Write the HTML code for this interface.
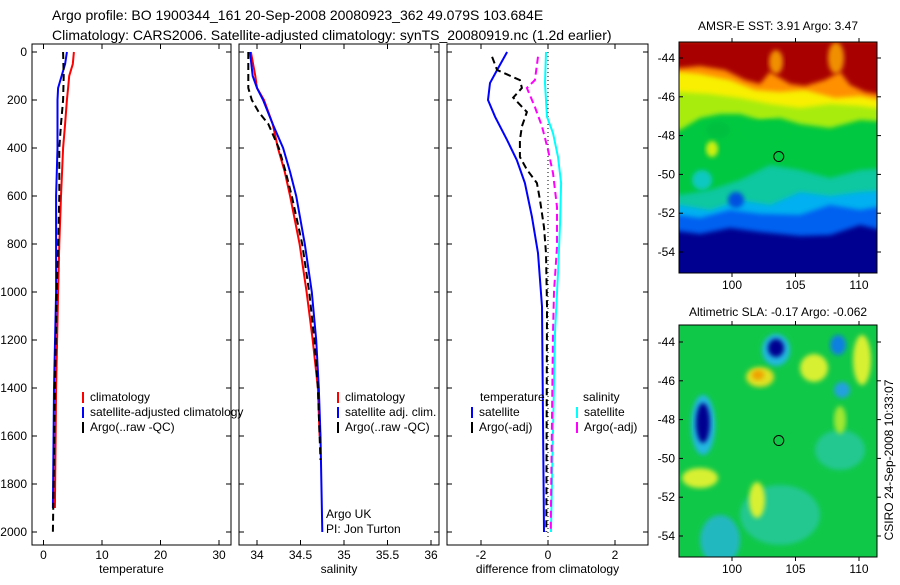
<!DOCTYPE html>
<html><head><meta charset="utf-8"><style>
html,body{margin:0;padding:0;background:#fff}
svg text{font-family:"Liberation Sans",sans-serif;fill:#000}
</style></head><body>
<svg id="fig" width="900" height="580" viewBox="0 0 900 580" xmlns="http://www.w3.org/2000/svg">
<defs>
<clipPath id="c1"><rect x="679" y="42" width="198" height="231"/></clipPath>
<clipPath id="c2"><rect x="679" y="325" width="198" height="232"/></clipPath>
<filter id="bl" x="-20%" y="-20%" width="140%" height="140%"><feGaussianBlur stdDeviation="2.5"/></filter>
</defs>
<text x="52" y="20" font-size="14">Argo profile: BO 1900344_161 20-Sep-2008 20080923_362 49.079S 103.684E</text>
<text x="52" y="40" font-size="14">Climatology: CARS2006. Satellite-adjusted climatology: synTS_20080919.nc (1.2d earlier)</text>

<g id="p1"></g>
<g id="p2"></g>
<g id="p3"></g>

<!-- SST map -->
<g>
<text x="778" y="30" font-size="12" text-anchor="middle">AMSR-E SST: 3.91 Argo: 3.47</text>
<g clip-path="url(#c1)">
<rect x="679" y="42" width="198" height="231" fill="#000090"/>
<polygon filter="url(#bl)" fill="#0060f0" points="670,40 890,40 890,232 860,225 830,235 800,236 760,232 730,228 700,234 670,230"/>
<polygon filter="url(#bl)" fill="#00b0f0" points="670,40 890,40 890,205 860,210 830,205 800,215 760,214 730,210 700,218 670,214"/>
<polygon filter="url(#bl)" fill="#10c8a0" points="670,40 890,40 890,190 860,192 830,196 800,192 770,205 740,200 710,210 680,205 670,205"/>
<polygon filter="url(#bl)" fill="#00c840" points="670,40 890,40 890,168 860,170 830,178 800,170 770,165 740,180 710,190 680,195 670,190"/>
<polygon filter="url(#bl)" fill="#a8ec10" points="670,40 890,40 890,122 860,120 830,128 800,124 780,118 760,120 740,114 720,114 700,118 680,130 670,130"/>
<polygon filter="url(#bl)" fill="#f8f000" points="670,40 890,40 890,110 860,106 830,104 800,108 770,104 740,98 710,94 680,92 670,92"/>
<polygon filter="url(#bl)" fill="#ff9000" points="670,40 890,40 890,102 860,96 835,98 805,90 780,92 755,90 730,80 700,74 680,72 670,72"/>
<polygon filter="url(#bl)" fill="#a80000" points="670,40 890,40 890,96 865,92 850,85 840,72 825,80 805,86 790,84 770,72 760,84 745,80 725,70 700,66 680,68 670,68"/>
<ellipse filter="url(#bl)" cx="776" cy="62" rx="7" ry="12" fill="#f09000"/>
<ellipse filter="url(#bl)" cx="836" cy="58" rx="8" ry="16" fill="#f09000"/>
<ellipse filter="url(#bl)" cx="718" cy="130" rx="12" ry="8" fill="#00c040"/>
<ellipse filter="url(#bl)" cx="765" cy="130" rx="22" ry="9" fill="#00c840"/>
<ellipse filter="url(#bl)" cx="712" cy="149" rx="6" ry="8" fill="#d0f010"/>
<ellipse filter="url(#bl)" cx="702" cy="180" rx="10" ry="10" fill="#10c8c0"/>
<ellipse filter="url(#bl)" cx="736" cy="200" rx="8" ry="8" fill="#0050e0"/>
</g>
<rect x="679" y="42" width="198" height="231" fill="none" stroke="#000" stroke-width="1"/>
</g>

<!-- SLA map -->
<g>
<text x="778" y="316" font-size="12" text-anchor="middle">Altimetric SLA: -0.17 Argo: -0.062</text>
<g clip-path="url(#c2)">
<rect x="679" y="325" width="198" height="232" fill="#10c848"/>
<ellipse filter="url(#bl)" cx="780" cy="515" rx="40" ry="30" fill="#20c890"/>
<ellipse filter="url(#bl)" cx="840" cy="450" rx="25" ry="20" fill="#20c890"/>
<ellipse filter="url(#bl)" cx="720" cy="540" rx="20" ry="25" fill="#20b8c0"/>
<ellipse filter="url(#bl)" cx="776" cy="350" rx="14" ry="16" fill="#20b8e0"/>
<ellipse filter="url(#bl)" cx="776" cy="348" rx="8" ry="9" fill="#000090"/>
<ellipse filter="url(#bl)" cx="838" cy="345" rx="8" ry="10" fill="#1080e0"/>
<ellipse filter="url(#bl)" cx="842" cy="390" rx="8" ry="8" fill="#20a0e0"/>
<ellipse filter="url(#bl)" cx="703" cy="425" rx="12" ry="30" fill="#20b8e0"/>
<ellipse filter="url(#bl)" cx="703" cy="423" rx="7" ry="20" fill="#000090"/>
<ellipse filter="url(#bl)" cx="760" cy="377" rx="14" ry="10" fill="#e0e020"/>
<ellipse filter="url(#bl)" cx="758" cy="375" rx="6" ry="5" fill="#f0a000"/>
<ellipse filter="url(#bl)" cx="814" cy="368" rx="14" ry="14" fill="#d8f030"/>
<ellipse filter="url(#bl)" cx="862" cy="360" rx="9" ry="25" fill="#d8f030"/>
<ellipse filter="url(#bl)" cx="700" cy="478" rx="18" ry="10" fill="#d8f030"/>
<ellipse filter="url(#bl)" cx="757" cy="500" rx="8" ry="18" fill="#d8f030"/>
<ellipse filter="url(#bl)" cx="840" cy="420" rx="6" ry="14" fill="#a0e830"/>
</g>
<rect x="679" y="325" width="198" height="232" fill="none" stroke="#000" stroke-width="1"/>
</g>
<text transform="translate(893,460) rotate(-90)" font-size="12" text-anchor="middle">CSIRO 24-Sep-2008 10:33:07</text>
</svg>
<script>
// ---- profile data ----
const tDepth = [0,50,100,150,200,300,400,600,800,1000,1400,1900];
const tClim  = [5.2,5.0,4.4,4.2,4.0,3.7,3.35,3.0,2.7,2.5,2.15,1.95];
const tSat   = [4.0,3.7,3.1,2.5,2.4,2.4,2.4,2.15,2.15,2.15,1.8,1.6];
const tArgoDepth=[0,100,200,300,400,600,800,1000,1400,2000];
const tArgo  = [3.35,3.45,3.35,3.0,2.7,2.7,2.5,2.25,1.95,1.6];
const sDepth = [0,100,150,200,300,400,500,600,800,1000,1200,1400,1600,2000];
const sClim  = [33.93,33.98,34.0,34.08,34.18,34.24,34.32,34.38,34.49,34.57,34.64,34.70,34.72,null];
const sSat   = [33.92,33.95,34.0,34.07,34.18,34.30,34.38,34.45,34.55,34.63,34.68,34.71,34.73,34.75];
const sArgoDepth=[0,150,200,250,300,400,500,600,800,1000,1200,1400,1600,1700];
const sArgo  = [33.9,33.9,33.94,34.02,34.13,34.25,34.33,34.40,34.52,34.60,34.66,34.70,34.72,34.73];
const dTDepth = [0,75,129,200,270,367,450,546,686,838,1060,2000];
const dTSat   = [-1.22,-1.52,-1.73,-1.79,-1.58,-1.22,-0.93,-0.69,-0.48,-0.30,-0.18,-0.12];
const dTArgoDepth=[20,75,117,150,190,250,310,367,437,490,546,617,730,838,1060,2000];
const dTArgo  = [-1.67,-1.52,-0.84,-0.78,-1.04,-0.63,-0.78,-0.84,-0.84,-0.63,-0.33,-0.24,-0.12,-0.06,-0.03,-0.05];
const dSDepth = [0,130,270,338,437,546,708,920,1170,2000];
const dSSat   = [-0.06,-0.09,-0.03,0.15,0.30,0.39,0.36,0.30,0.21,0.09];
const dSArgoDepth=[20,117,150,229,310,408,504,646,812,1000,1170,2000];
const dSArgo  = [-0.30,-0.39,-0.63,-0.39,-0.18,0.0,0.15,0.27,0.27,0.18,0.15,0.08];
const depthTicks=[0,200,400,600,800,1000,1200,1400,1600,1800,2000];
const tTicks=[0,10,20,30], sTicks=[34,34.5,35,35.5,36], dTicks=[-2,0,2];
const latTicks=[-44,-46,-48,-50,-52,-54], lonTicks=[100,105,110];
const argoLon=103.684, argoLat=-49.079;

const NS='http://www.w3.org/2000/svg';
const svg=document.getElementById('fig');
function mk(parent,tag,attrs){const e=document.createElementNS(NS,tag);for(const k in attrs)e.setAttribute(k,attrs[k]);parent.appendChild(e);return e;}
const Y0=52, KY=0.24, TOP=44, BOT=545;
const yD=d=>Y0+d*KY;

function panel(g,x0,x1,xf,ticks,label,showY){
  mk(g,'rect',{x:x0,y:TOP,width:x1-x0,height:BOT-TOP,fill:'none',stroke:'#000','stroke-width':1});
  depthTicks.forEach(d=>{
    mk(g,'line',{x1:x0,x2:x0+5,y1:yD(d),y2:yD(d),stroke:'#000'});
    mk(g,'line',{x1:x1-5,x2:x1,y1:yD(d),y2:yD(d),stroke:'#000'});
    if(showY){const t=mk(g,'text',{x:x0-5,y:yD(d)+4,'font-size':12,'text-anchor':'end'});t.textContent=d;
      
      }
  });
  ticks.forEach(v=>{
    mk(g,'line',{x1:xf(v),x2:xf(v),y1:TOP,y2:TOP+5,stroke:'#000'});
    mk(g,'line',{x1:xf(v),x2:xf(v),y1:BOT-5,y2:BOT,stroke:'#000'});
    const t=mk(g,'text',{x:xf(v),y:BOT+14,'font-size':12,'text-anchor':'middle'});t.textContent=v;
    
    
  });
  const t=mk(g,'text',{x:(x0+x1)/2,y:573,'font-size':12,'text-anchor':'middle'});t.textContent=label;
  
  
}
function line(g,depths,vals,xf,color,dash,name,w){
  let d='';depths.forEach((z,i)=>{if(vals[i]==null)return;d+=(d?'L':'M')+xf(vals[i]).toFixed(1)+','+yD(z).toFixed(1);});
  const p=mk(g,'path',{d:d,fill:'none',stroke:color,'stroke-width':w||2});
  if(dash)p.setAttribute('stroke-dasharray',dash);
  
  
}
function legend(g,x,y,color,text){
  mk(g,'line',{x1:x,x2:x,y1:y-9,y2:y+2,stroke:color,'stroke-width':2});
  const t=mk(g,'text',{x:x+7,y:y,'font-size':12});t.textContent=text;
  
  
}
const xT=v=>43.5+5.85*v, xS=v=>257+87*(v-34), xDf=v=>548+33.5*v;
const p1=document.getElementById('p1'),p2=document.getElementById('p2'),p3=document.getElementById('p3');
panel(p1,32,231,xT,tTicks,'temperature',true);
line(p1,tDepth,tClim,xT,'#f00',null,'temp-climatology-line');
line(p1,tDepth,tSat,xT,'#00f',null,'temp-satellite-line');
line(p1,tArgoDepth,tArgo,xT,'#000','7,4','temp-argo-line');
legend(p1,83,401,'#f00','climatology');legend(p1,83,416,'#00f','satellite-adjusted climatology');legend(p1,83,431,'#000','Argo(..raw -QC)');

panel(p2,239,439,xS,sTicks,'salinity',false);
line(p2,sDepth,sClim,xS,'#f00',null,'sal-climatology-line');
line(p2,sDepth,sSat,xS,'#00f',null,'sal-satellite-line');
line(p2,sArgoDepth,sArgo,xS,'#000','7,4','sal-argo-line');
legend(p2,338,401,'#f00','climatology');legend(p2,338,416,'#00f','satellite adj. clim.');legend(p2,338,431,'#000','Argo(..raw -QC)');
let t=mk(p2,'text',{x:326,y:518,'font-size':12});t.textContent='Argo UK';
t=mk(p2,'text',{x:326,y:533,'font-size':12});t.textContent='PI: Jon Turton';

panel(p3,447,648,xDf,dTicks,'difference from climatology',false);
mk(p3,'line',{x1:xDf(0),x2:xDf(0),y1:TOP,y2:BOT,stroke:'#000','stroke-width':1,'stroke-dasharray':'1,3'});
line(p3,dTDepth,dTSat,xDf,'#00f',null,'diff-temp-satellite-line');
line(p3,dTArgoDepth,dTArgo,xDf,'#000','7,4','diff-temp-argo-line');
line(p3,dSDepth,dSSat,xDf,'#0ff',null,'diff-sal-satellite-line');
line(p3,dSArgoDepth,dSArgo,xDf,'#f0f','7,4','diff-sal-argo-line');
t=mk(p3,'text',{x:480,y:401,'font-size':12});t.textContent='temperature';
legend(p3,472,416,'#00f','satellite');legend(p3,472,431,'#000','Argo(-adj)');
t=mk(p3,'text',{x:583,y:401,'font-size':12});t.textContent='salinity';
legend(p3,577,416,'#0ff','satellite');legend(p3,577,431,'#f0f','Argo(-adj)');

function mapAxes(x0,x1,y0,y1,latY0){
  const g=mk(svg,'g',{});
  
  
  const xL=v=>732+12.7*(v-100), yL=v=>latY0+19.4*(-44-v);
  latTicks.forEach(v=>{
    mk(g,'line',{x1:x0,x2:x0+4,y1:yL(v),y2:yL(v),stroke:'#000'});
    mk(g,'line',{x1:x1,x2:x1+4,y1:yL(v),y2:yL(v),stroke:'#000'});
    const t=mk(g,'text',{x:x0-4,y:yL(v)+4,'font-size':12,'text-anchor':'end'});t.textContent=v;
  });
  lonTicks.forEach(v=>{
    mk(g,'line',{x1:xL(v),x2:xL(v),y1:y0-4,y2:y0,stroke:'#000'});
    mk(g,'line',{x1:xL(v),x2:xL(v),y1:y1,y2:y1+4,stroke:'#000'});
    const t=mk(g,'text',{x:xL(v),y:y1+16,'font-size':12,'text-anchor':'middle'});t.textContent=v;
  });
  const c=mk(g,'circle',{cx:xL(argoLon),cy:yL(argoLat),r:5,fill:'none',stroke:'#000','stroke-width':1});
  
  
}
mapAxes(679,877,42,273,58);
mapAxes(679,877,325,557,342);
</script>
</body></html>
